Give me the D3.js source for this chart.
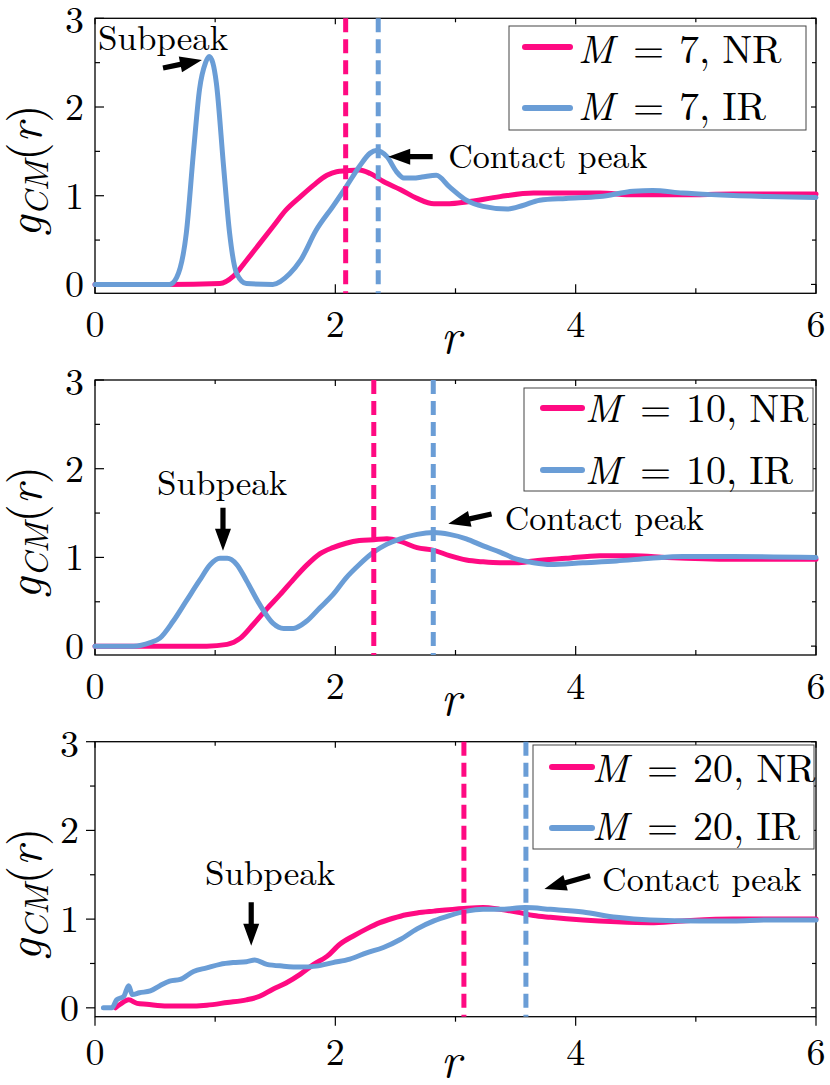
<!DOCTYPE html>
<html><head><meta charset="utf-8">
<script src="https://cdn.jsdelivr.net/npm/d3@7"></script>
<style>body{margin:0;background:#fff}svg{display:block}</style>
</head><body>
<svg id="c" width="830" height="1085"></svg>
<script>
// ---------- data ----------
const p1_NR_r = [0,0.6,1.04,1.15,1.26,1.37,1.48,1.59,1.71,1.82,1.93,2.01,2.09,2.2,2.29,2.4,2.54,2.68,2.82,2.95,3.09,3.37,3.65,3.92,4.2,4.48,4.89,5.31,6];
const p1_NR_g = [0,0,0.01,0.09,0.27,0.46,0.65,0.84,0.99,1.12,1.23,1.27,1.28,1.29,1.25,1.16,1.07,0.97,0.91,0.91,0.93,0.99,1.03,1.03,1.03,1.01,1.01,1.02,1.02];
const p1_IR_r = [0,0.62,0.68,0.76,0.82,0.87,0.92,0.95,0.98,1.01,1.07,1.12,1.18,1.26,1.48,1.62,1.71,1.84,1.98,2.09,2.2,2.29,2.34,2.43,2.51,2.57,2.65,2.72,2.84,2.95,3.09,3.23,3.43,3.56,3.7,3.92,4.2,4.48,4.64,4.89,5.17,5.59,6];
const p1_IR_g = [0,0,0.08,0.58,1.5,2.2,2.5,2.57,2.5,2.27,1.33,0.58,0.12,0.01,0,0.12,0.27,0.61,0.88,1.1,1.33,1.48,1.51,1.44,1.27,1.2,1.2,1.21,1.23,1.1,0.95,0.88,0.85,0.89,0.95,0.97,0.99,1.05,1.06,1.03,1.01,0.99,0.98];

const p2_NR_r = [0,0.93,1.1,1.21,1.32,1.43,1.54,1.65,1.76,1.87,1.98,2.09,2.2,2.32,2.43,2.54,2.68,2.82,2.95,3.09,3.23,3.37,3.51,3.65,3.92,4.2,4.48,4.76,5.31,6];
const p2_NR_g = [0,0,0.02,0.09,0.25,0.42,0.58,0.75,0.91,1.04,1.11,1.16,1.19,1.2,1.21,1.18,1.11,1.08,1.02,0.97,0.95,0.94,0.94,0.96,0.99,1.02,1.02,1.0,0.98,0.98];
const p2_IR_r = [0,0.32,0.46,0.54,0.65,0.76,0.87,0.96,1.04,1.1,1.18,1.26,1.37,1.48,1.57,1.65,1.76,1.87,1.98,2.09,2.2,2.32,2.43,2.54,2.68,2.82,2.95,3.09,3.23,3.37,3.51,3.65,3.79,4.06,4.34,4.62,4.89,5.31,6];
const p2_IR_g = [0,0,0.04,0.09,0.28,0.51,0.74,0.92,0.99,0.99,0.92,0.74,0.47,0.26,0.2,0.2,0.28,0.43,0.58,0.77,0.92,1.06,1.15,1.21,1.26,1.28,1.26,1.21,1.13,1.06,0.98,0.94,0.92,0.94,0.96,0.99,1.01,1.01,1.0];

const p3_NR_r = [0.17,0.21,0.28,0.35,0.43,0.6,0.76,0.93,1.1,1.26,1.37,1.48,1.59,1.71,1.82,1.93,2.04,2.15,2.26,2.37,2.48,2.59,2.68,2.82,3.07,3.23,3.37,3.51,3.65,3.79,4.06,4.34,4.62,4.89,5.31,6];
const p3_NR_g = [0,0.04,0.09,0.05,0.04,0.02,0.02,0.03,0.06,0.09,0.13,0.21,0.28,0.38,0.49,0.58,0.72,0.81,0.89,0.96,1.01,1.05,1.07,1.09,1.12,1.13,1.11,1.08,1.04,1.02,0.99,0.97,0.96,0.98,1.0,1.0];
const p3_IR_r = [0.07,0.14,0.18,0.24,0.28,0.31,0.37,0.46,0.54,0.62,0.71,0.82,0.93,1.04,1.15,1.26,1.33,1.43,1.57,1.71,1.84,1.98,2.12,2.26,2.4,2.54,2.68,2.82,2.95,3.09,3.23,3.37,3.58,3.79,4.06,4.34,4.62,5.03,5.31,5.59,6];
const p3_IR_g = [0,0,0.09,0.13,0.25,0.15,0.17,0.19,0.25,0.3,0.32,0.41,0.45,0.49,0.51,0.52,0.54,0.49,0.47,0.46,0.47,0.51,0.55,0.62,0.68,0.77,0.89,0.98,1.04,1.09,1.11,1.11,1.13,1.11,1.08,1.02,0.99,0.98,0.98,0.99,0.99];

const contactNR = [2.086, 2.32, 3.07];
const contactIR = [2.357, 2.815, 3.586];
const Mvalues = ["7", "10", "20"];
const seriesNames = ["NR", "IR"];
const xTickLabels = [0, 2, 4, 6];
const yTickLabels = [0, 1, 2, 3];
// annotations in data coords: [textR, textG, tailR, tailG, tipR, tipG]
const subpeakNotes = [[0.025,2.64,0.566,2.44,0.89,2.53],[0.516,1.70,1.065,1.56,1.065,1.075],[0.915,1.38,1.30,1.19,1.30,0.70]];
const contactNotes = [[2.94,1.31,2.81,1.44,2.44,1.44],[3.41,1.31,3.30,1.49,2.94,1.38],[4.22,1.32,4.12,1.49,3.74,1.34]];

// ---------- drawing ----------
const PINK = "#FF0A82", BLUE = "#6A9DD6";
const LM = "'Latin Modern Roman', monospace";
const svg = d3.select("#c");
const x = d3.scaleLinear().domain([0, 6]).range([95, 816]);
const tops = [18.3, 380, 741.7];
const H = 275;
const series = [
  [[p1_NR_r,p1_NR_g],[p1_IR_r,p1_IR_g]],
  [[p2_NR_r,p2_NR_g],[p2_IR_r,p2_IR_g]],
  [[p3_NR_r,p3_NR_g],[p3_IR_r,p3_IR_g]]
];
const legendBox = [[509,26,297,104],[524,388,289,103],[533,745,281,104]];
const legendLineX = [[525,570,578],[543,582,585],[552,592,592]];
const legendRows = [[47,108,63,120],[408,470,422,484],[767,828,782,840]];

function txt(g) { return g.append("text").style("font-family", LM); }

function arrow(g, x1, y1, x2, y2) {
  const dx = x2 - x1, dy = y2 - y1, L = Math.hypot(dx, dy);
  const ux = dx / L, uy = dy / L, nx = -uy, ny = ux;
  const hl = 22, hw = 8, sw = 2.6;
  const bx = x2 - ux * hl, by = y2 - uy * hl;
  const pts = [
    [x1 + nx * sw, y1 + ny * sw], [bx + nx * sw, by + ny * sw], [bx + nx * hw, by + ny * hw],
    [x2, y2], [bx - nx * hw, by - ny * hw], [bx - nx * sw, by - ny * sw], [x1 - nx * sw, y1 - ny * sw]
  ];
  g.append("path").attr("d", "M" + pts.map(p => p.join(",")).join("L") + "Z").attr("fill", "#000");
}

series.forEach((ser, i) => {
  const top = tops[i];
  const y = d3.scaleLinear().domain([-0.1, 3]).range([top + H, top]);
  const g = svg.append("g");
  const outward = i === 2;
  const L = x(0), R = x(6), T = y(3), B = y(-0.1);

  // ticks
  const tk = g.append("g");
  d3.range(0, 6.01, 1).forEach(v => {
    const major = v % 2 === 0;
    const len = major ? 9 : 5, mlen = major ? 6 : 4;
    const xb = x(v);
    if (outward) tk.append("line").attr("x1", xb).attr("x2", xb).attr("y1", B).attr("y2", B + len);
    else tk.append("line").attr("x1", xb).attr("x2", xb).attr("y1", B).attr("y2", B - len);
    tk.append("line").attr("x1", xb).attr("x2", xb).attr("y1", T).attr("y2", T + mlen);
  });
  d3.range(0, 3.01, 0.5).forEach(v => {
    const major = Number.isInteger(v);
    const len = major ? 9 : 5, mlen = major ? 5 : 4;
    const yb = y(v);
    if (outward) tk.append("line").attr("x1", L).attr("x2", L - len).attr("y1", yb).attr("y2", yb);
    else tk.append("line").attr("x1", L).attr("x2", L + len).attr("y1", yb).attr("y2", yb);
    tk.append("line").attr("x1", R).attr("x2", R - mlen).attr("y1", yb).attr("y2", yb);
  });
  tk.selectAll("line").attr("stroke", "#000").attr("stroke-width", 1.2);

  // box
  g.append("rect").attr("x", L).attr("y", T).attr("width", R - L).attr("height", B - T)
    .attr("fill", "none").attr("stroke", "#000").attr("stroke-width", 1.3);

  // tick labels
  xTickLabels.forEach(v => {
    txt(g).attr("x", x(v)).attr("y", outward ? 1065 : B + 44).attr("text-anchor", "middle")
      .attr("font-size", 38).text(v);
  });
  yTickLabels.forEach(v => {
    txt(g).attr("x", outward ? 79 : 84).attr("y", y(v) + (v === 3 ? 15 : 13)).attr("text-anchor", "end")
      .attr("font-size", 38).text(v);
  });

  // axis labels
  txt(g).attr("x", 451).attr("y", outward ? 1077 : B + 60).attr("text-anchor", "middle")
    .attr("font-size", 48).attr("font-style", "italic").text("r");
  const yl = txt(g).attr("transform", `translate(41,${(T + B) / 2 + 15}) rotate(-90)`)
    .attr("text-anchor", "middle").attr("font-size", 47);
  yl.append("tspan").attr("font-style", "italic").text("g");
  yl.append("tspan").attr("font-style", "italic").attr("font-size", 34).attr("dy", 7).text("CM");
  yl.append("tspan").attr("dy", -7).text("(");
  yl.append("tspan").attr("font-style", "italic").text("r");
  yl.append("tspan").text(")");

  // curves
  const line = d3.line().x(d => x(d[0])).y(d => y(d[1])).curve(d3.curveMonotoneX);
  [PINK, BLUE].forEach((col, k) => {
    const [rs, gs] = ser[k];
    const pts = rs.map((r, j) => [r, gs[j]]);
    g.append("path").datum(pts).attr("d", line).attr("fill", "none").attr("stroke", col)
      .attr("stroke-width", 5).attr("stroke-linejoin", "round").attr("stroke-linecap", "round");
  });

  // contact lines
  [[contactNR[i], PINK], [contactIR[i], BLUE]].forEach(([v, col]) => {
    g.append("line").attr("x1", x(v)).attr("x2", x(v)).attr("y1", T).attr("y2", B)
      .attr("stroke", col).attr("stroke-width", 5).attr("stroke-dasharray", "14,7");
  });

  // annotations
  const sn = subpeakNotes[i];
  txt(g).attr("x", x(sn[0])).attr("y", y(sn[1])).attr("font-size", 35).text("Subpeak");
  arrow(g, x(sn[2]), y(sn[3]), x(sn[4]), y(sn[5]));
  const cn = contactNotes[i];
  txt(g).attr("x", x(cn[0])).attr("y", y(cn[1])).attr("font-size", 34).text("Contact peak");
  arrow(g, x(cn[2]), y(cn[3]), x(cn[4]), y(cn[5]));

  // legend
  const lb = legendBox[i];
  g.append("rect").attr("x", lb[0]).attr("y", lb[1]).attr("width", lb[2]).attr("height", lb[3])
    .attr("fill", "#fff").attr("stroke", "#444").attr("stroke-width", 1);
  const lx = legendLineX[i], lr = legendRows[i];
  [PINK, BLUE].forEach((col, k) => {
    g.append("line").attr("x1", lx[0]).attr("x2", lx[1]).attr("y1", lr[k]).attr("y2", lr[k])
      .attr("stroke", col).attr("stroke-width", 6).attr("stroke-linecap", "round");
    const x0 = lx[2], yb = lr[k + 2], fs = 40;
    txt(g).attr("x", x0).attr("y", yb).attr("font-size", fs).attr("font-style", "italic").text("M");
    txt(g).attr("x", x0 + 55).attr("y", yb).attr("font-size", fs).text("=");
    const num = txt(g).attr("x", x0 + 101).attr("y", yb).attr("font-size", fs).text(Mvalues[i] + ",");
    const w = num.node().getComputedTextLength();
    txt(g).attr("x", x0 + 101 + w + 12).attr("y", yb).attr("font-size", fs).text(seriesNames[k]);
  });
});
</script>
</body></html>
